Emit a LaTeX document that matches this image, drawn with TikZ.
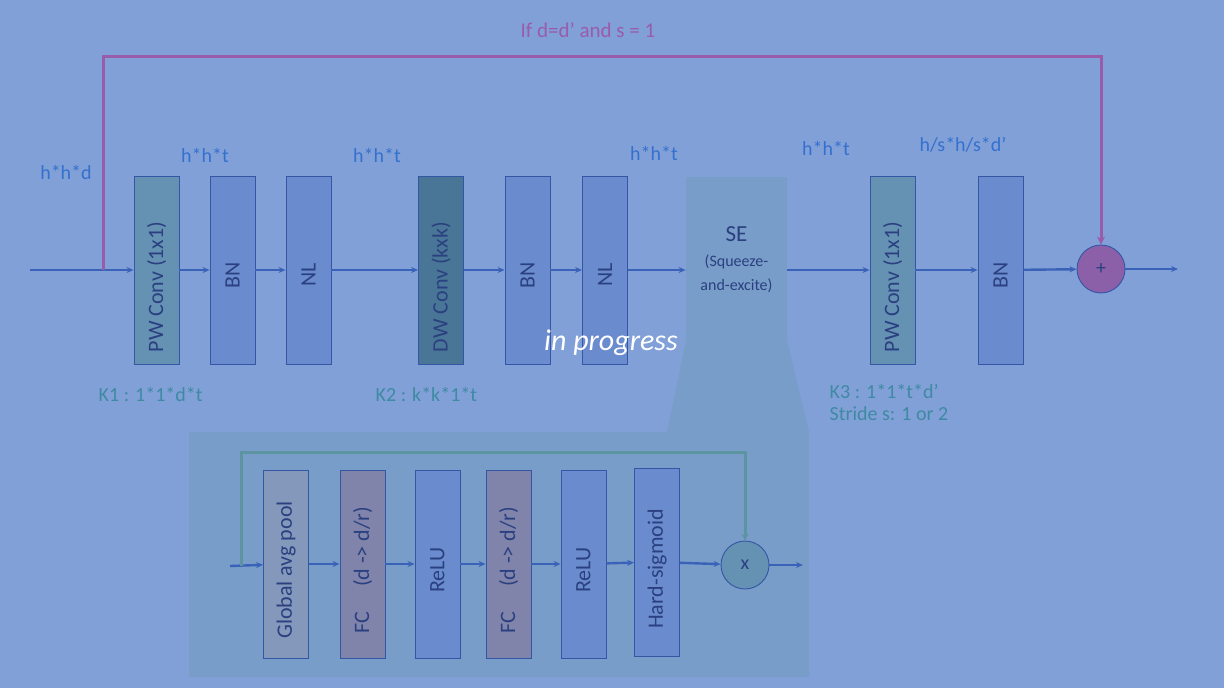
\documentclass[tikz,border=0pt]{standalone}
\usepackage{fontspec}
\setmainfont{Carlito}
\usetikzlibrary{arrows.meta}

\definecolor{bgblue}{RGB}{130,160,216}
\definecolor{sepanel}{RGB}{121,157,201}
\definecolor{bnblue}{RGB}{106,139,206}
\definecolor{pwteal}{RGB}{101,145,179}
\definecolor{dwteal}{RGB}{73,118,151}
\definecolor{fcpurple}{RGB}{128,131,170}
\definecolor{gapgrey}{RGB}{131,152,186}
\definecolor{pluspurple}{RGB}{140,96,168}
\definecolor{boxline}{RGB}{52,86,165}
\definecolor{boxtext}{RGB}{42,64,128}
\definecolor{flowblue}{RGB}{58,98,184}
\definecolor{skippink}{RGB}{152,92,170}
\definecolor{skipteal}{RGB}{92,148,162}
\definecolor{dimblue}{RGB}{52,112,205}
\definecolor{kerteal}{RGB}{62,138,162}

\tikzstyle{layerbox} = [rectangle, draw=boxline, line width=0.9pt, rotate=90, minimum width=188pt, minimum height=45pt, inner sep=0pt, text=boxtext, font=\fontsize{22}{26}\selectfont]
\tikzstyle{opcircle} = [circle, draw=boxline, line width=0.9pt, minimum size=48pt, inner sep=0pt, text=boxtext, font=\fontsize{20}{24}\selectfont]
\tikzstyle{flow} = [draw=flowblue, line width=2.4pt, -{Stealth[length=7pt,width=6pt]}]
\tikzstyle{dimlabel} = [text=dimblue, font=\fontsize{20}{24}\selectfont]
\tikzstyle{kerlabel} = [text=kerteal, font=\fontsize{20}{24}\selectfont, anchor=west]

\begin{document}
\begin{tikzpicture}[x=1pt, y=-1pt, thick]
        \fill[bgblue] (0,0) rectangle (1224,688);
        \useasboundingbox (0,0) rectangle (1224,688);

        % SE block and its zoomed panel
        \fill[sepanel] (686,177) -- (787,177) -- (787,340) -- (809,432) -- (809,677) -- (189,677) -- (189,432) -- (667,432) -- (686,340) -- cycle;

        % main block
        \node [layerbox, fill=pwteal] (pw1) at (156.5,270) {PW Conv (1x1)\hspace*{34pt}};
        \node [layerbox, fill=bnblue] (bn1) at (232.5,270) {BN\hspace*{10pt}};
        \node [layerbox, fill=bnblue] (nl1) at (308.5,270) {NL\hspace*{10pt}};
        \node [layerbox, fill=dwteal] (dw) at (441,270) {DW Conv (kxk)\hspace*{34pt}};
        \node [layerbox, fill=bnblue] (bn2) at (527.5,270) {BN\hspace*{10pt}};
        \node [layerbox, fill=bnblue] (nl2) at (605,270) {NL\hspace*{10pt}};
        \node [align=center, minimum width=101pt, minimum height=162pt, inner sep=0pt, text=boxtext, font=\fontsize{23}{24}\selectfont] (se) at (736.5,260) {SE\\[1pt] {\fontsize{16}{20}\selectfont (Squeeze-}\\ {\fontsize{16}{20}\selectfont and-excite)}};
        \node [layerbox, fill=pwteal] (pw2) at (892.5,270) {PW Conv (1x1)\hspace*{34pt}};
        \node [layerbox, fill=bnblue] (bn3) at (1000.5,270) {BN\hspace*{10pt}};
        \node [opcircle, fill=pluspurple] (plus) at (1101,269) {+};

        \coordinate (in) at (30,270);
        \coordinate (split) at (103,270);
        \coordinate (skipL) at (103,56);
        \coordinate (out) at (1178,269);

        \draw [flow] (in) -- (pw1);
        \draw [flow] (pw1) -- (bn1);
        \draw [flow] (bn1) -- (nl1);
        \draw [flow] (nl1) -- (dw);
        \draw [flow] (dw) -- (bn2);
        \draw [flow] (bn2) -- (nl2);
        \draw [flow] (nl2) -- (nl2 -| se.west);
        \draw [flow] (se.east |- pw2) -- (pw2);
        \draw [flow] (pw2) -- (bn3);
        \draw [flow] (bn3) -- (plus);
        \draw [flow] (plus) -- (out);
        \draw [draw=skippink, line width=3pt, -{Stealth[length=8pt,width=8pt]}] (split) -- (skipL) -| (plus.north);

        % labels
        \node [text=skippink, font=\fontsize{21}{24}\selectfont] at (588,30) {If d=d’ and s = 1};
        \node [dimlabel] at (66,172) {h*h*d};
        \node [dimlabel] at (205,155) {h*h*t};
        \node [dimlabel] at (377,155) {h*h*t};
        \node [dimlabel] at (654,153) {h*h*t};
        \node [dimlabel] at (826,148) {h*h*t};
        \node [dimlabel] at (963,145) {h/s*h/s*d’};
        \node [kerlabel] at (95,394) {K1 : 1*1*d*t};
        \node [kerlabel] at (372,394) {K2 : k*k*1*t};
        \node [kerlabel] at (826,391) {K3 : 1*1*t*d’};
        \node [kerlabel] at (826,414) {Stride s: 1 or 2};
        \node [text=white, font=\fontsize{30}{32}\selectfont\itshape] at (611,343) {in progress};

        % squeeze-and-excite detail
        \node [layerbox, fill=gapgrey] (gap) at (286,564) {Global avg pool\hspace*{12pt}};
        \node [layerbox, fill=fcpurple] (fc1) at (362.5,564) {FC\hspace{0.9em} (d -> d/r)\hspace*{12pt}};
        \node [layerbox, fill=bnblue] (relu1) at (437.5,564) {ReLU\hspace*{12pt}};
        \node [layerbox, fill=fcpurple] (fc2) at (508.5,564) {FC\hspace{0.9em} (d -> d/r)\hspace*{12pt}};
        \node [layerbox, fill=bnblue] (relu2) at (583.5,564) {ReLU\hspace*{12pt}};
        \node [layerbox, fill=bnblue] (hsig) at (657,562) {Hard-sigmoid\hspace*{14pt}};
        \node [opcircle, fill=pwteal] (mul) at (745,565) {x};

        \coordinate (sein) at (230,566);
        \coordinate (sesplit) at (241,566);
        \coordinate (seskipL) at (241,452);
        \coordinate (seout) at (803,565);

        \draw [flow] (sein) -- (gap);
        \draw [flow] (gap) -- (fc1);
        \draw [flow] (fc1) -- (relu1);
        \draw [flow] (relu1) -- (fc2);
        \draw [flow] (fc2) -- (relu2);
        \draw [flow] (relu2) -- (hsig);
        \draw [flow] (hsig) -- (mul);
        \draw [flow] (mul) -- (seout);
        \draw [draw=skipteal, line width=3pt, -{Stealth[length=7pt,width=7pt]}] (sesplit) -- (seskipL) -| (mul.north);

    \end{tikzpicture}
\end{document}
